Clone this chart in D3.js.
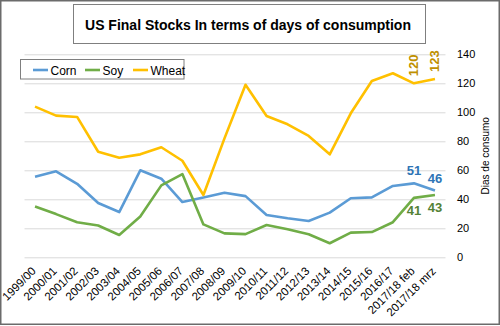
<!DOCTYPE html>
<html lang="en">
<head>
    <title>US Final Stocks</title>
    <script src="https://d3js.org/d3.v7.min.js"></script>
    <style>
        body { margin: 0; background: #fff; }
        text { font-family: "Liberation Sans", Arial, sans-serif; }
    </style>
</head>
<body>
    <div id="chart"></div>

    <script>
        // Marketing years on the x-axis
        const categories = [
            "1999/00", "2000/01", "2001/02", "2002/03", "2003/04", "2004/05",
            "2005/06", "2006/07", "2007/08", "2008/09", "2009/10", "2010/11",
            "2011/12", "2012/13", "2013/14", "2014/15", "2015/16", "2016/17",
            "2017/18 feb", "2017/18 mrz"
        ];

        // Final stocks in days of consumption
        const corn  = [55.6, 59.3, 50.7, 37.4, 31.2, 60, 54.2, 38.1, 41.3, 44.5,
                       42.2, 29.2, 26.9, 25.0, 30.8, 40.7, 41.3, 49.2, 51, 46];
        const soy   = [35, 29.8, 24.2, 21.9, 15.4, 28.1, 49.6, 57.4, 22.7, 16.5,
                       16.0, 22.3, 19.3, 15.9, 9.7, 17.0, 17.4, 24.2, 41, 43];
        const wheat = [103.9, 97.7, 96.8, 72.8, 68.7, 71, 75.9, 66.6, 43, 82,
                       119, 97.4, 91.7, 83.7, 71, 99.3, 121.6, 126.9, 120, 123];

        const yTicks = [0, 20, 40, 60, 80, 100, 120, 140];

        const series = [
            { name: "Corn",  values: corn,  color: "#5B9BD5", label: "#2E75B6" },
            { name: "Soy",   values: soy,   color: "#70AD47", label: "#548235" },
            { name: "Wheat", values: wheat, color: "#FFC000", label: "#BF9000" }
        ];

        const width = 500;
        const height = 326;
        const plot = { left: 24.5, right: 445.5, top: 54.3, bottom: 257.3 };

        const svg = d3.select("#chart")
            .append("svg")
            .attr("width", width)
            .attr("height", height);

        // Outer frame
        svg.append("rect")
            .attr("x", 0.75).attr("y", 0.75)
            .attr("width", width - 1.5).attr("height", height - 2.5)
            .attr("fill", "#fff")
            .attr("stroke", "#6b6b6b")
            .attr("stroke-width", 1.5);

        const x = d3.scaleBand()
            .domain(categories)
            .range([plot.left, plot.right]);

        const cx = d => x(d) + x.bandwidth() / 2;

        const y = d3.scaleLinear()
            .domain([0, 140])
            .range([plot.bottom, plot.top]);

        // Horizontal gridlines
        svg.append("g")
            .attr("transform", `translate(${plot.left},0)`)
            .call(d3.axisLeft(y).tickValues(yTicks).tickSize(-(plot.right - plot.left)).tickFormat(""))
            .call(g => g.select(".domain").remove())
            .call(g => g.selectAll("line").attr("stroke", "#D9D9D9"));

        // Right value axis
        svg.append("g")
            .attr("transform", `translate(${plot.right},0)`)
            .call(d3.axisRight(y).tickValues(yTicks).tickSize(0).tickPadding(11.5))
            .call(g => g.select(".domain").remove())
            .call(g => g.selectAll("text")
                .attr("font-size", 11)
                .attr("fill", "#000")
                .attr("font-family", "Liberation Sans, Arial, sans-serif"));

        svg.append("text")
            .attr("transform", `translate(488.5,${(plot.top + plot.bottom) / 2}) rotate(-90)`)
            .attr("text-anchor", "middle")
            .attr("font-size", 10)
            .text("Dias de consumo");

        // Category axis, labels slanted
        svg.append("g")
            .attr("transform", `translate(0,${plot.bottom})`)
            .call(d3.axisBottom(x).tickSize(0).tickPadding(0))
            .call(g => g.select(".domain").remove())
            .call(g => g.selectAll("text")
                .attr("font-size", 11.5)
                .attr("fill", "#000")
                .attr("font-family", "Liberation Sans, Arial, sans-serif")
                .attr("text-anchor", "end")
                .attr("dy", null)
                .attr("y", 0)
                .attr("transform", "translate(1.5,14.5) rotate(-45)"));

        // Series lines
        const line = d3.line()
            .x((d, i) => cx(categories[i]))
            .y(d => y(d));

        svg.selectAll("path.series")
            .data(series)
            .enter()
            .append("path")
            .attr("class", "series")
            .attr("d", d => line(d.values))
            .attr("fill", "none")
            .attr("stroke", d => d.color)
            .attr("stroke-width", 2.6)
            .attr("stroke-linejoin", "round");

        // Value labels on the last two points
        const lastIdx = [categories.length - 2, categories.length - 1];

        lastIdx.forEach(i => {
            svg.append("text")
                .attr("x", cx(categories[i]))
                .attr("y", y(corn[i]) - 8)
                .attr("text-anchor", "middle")
                .attr("font-size", 13)
                .attr("font-weight", "bold")
                .attr("fill", series[0].label)
                .text(corn[i]);

            svg.append("text")
                .attr("x", cx(categories[i]))
                .attr("y", y(soy[i]) + 17.5)
                .attr("text-anchor", "middle")
                .attr("font-size", 13)
                .attr("font-weight", "bold")
                .attr("fill", series[1].label)
                .text(soy[i]);

            svg.append("text")
                .attr("transform", `translate(${cx(categories[i]) + 4.5},${y(wheat[i]) - 7}) rotate(-90)`)
                .attr("text-anchor", "start")
                .attr("font-size", 13)
                .attr("font-weight", "bold")
                .attr("fill", series[2].label)
                .text(wheat[i]);
        });

        // Legend
        const legend = svg.append("g");
        legend.append("rect")
            .attr("x", 20.5).attr("y", 59.5)
            .attr("width", 163.5).attr("height", 19.5)
            .attr("fill", "#fff")
            .attr("stroke", "#7f7f7f");

        const legendX = [33, 85, 133];
        series.forEach((s, i) => {
            legend.append("line")
                .attr("x1", legendX[i]).attr("x2", legendX[i] + 15)
                .attr("y1", 70).attr("y2", 70)
                .attr("stroke", s.color)
                .attr("stroke-width", 2.6);
            legend.append("text")
                .attr("x", legendX[i] + 17.5)
                .attr("y", 74.5)
                .attr("font-size", 12)
                .text(s.name);
        });

        // Title box
        svg.append("rect")
            .attr("x", 73.5).attr("y", 4.5)
            .attr("width", 352).attr("height", 39)
            .attr("fill", "#fff")
            .attr("stroke", "#7f7f7f");

        svg.append("text")
            .attr("x", 248)
            .attr("y", 29.5)
            .attr("text-anchor", "middle")
            .attr("font-size", 14)
            .attr("font-weight", "bold")
            .text("US Final Stocks In terms of days of consumption");
    </script>
</body>
</html>
